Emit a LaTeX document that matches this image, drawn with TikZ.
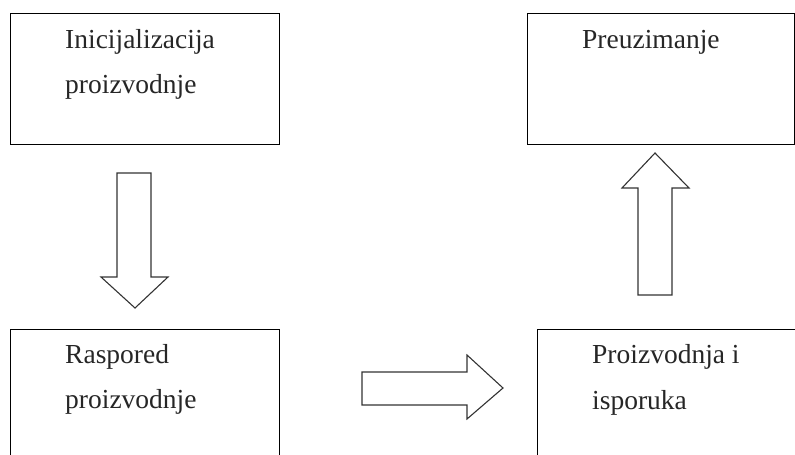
\documentclass[tikz,border=0pt]{standalone}
\usepackage{fontspec}
\setmainfont{Liberation Serif}
\begin{document}
\begin{tikzpicture}[x=1pt,y=-1pt,
  box/.style={draw=black,line width=1.4pt,rectangle,inner sep=0pt,anchor=north west},
  lbl/.style={anchor=base west,inner sep=0pt,font=\fontsize{27.5}{45}\selectfont,text=black!85},
  blockarrow/.style={draw=black!80,line width=1.1pt,fill=white,line join=miter}]
\useasboundingbox (0,0) rectangle (795,455);
\clip (0,0) rectangle (795,455);
% boxes
\node[box,minimum width=269pt,minimum height=131pt] (b1) at (10,13) {};
\node[box,minimum width=267pt,minimum height=131pt] (b2) at (527,13) {};
\node[box,minimum width=269pt,minimum height=140pt] (b3) at (10,329) {};
\node[box,minimum width=270pt,minimum height=140pt] (b4) at (537,329) {};
% labels
\node[lbl] (t1a) at (65,48) {Inicijalizacija};
\node[lbl] (t1b) at (65,93) {proizvodnje};
\node[lbl] (t2) at (582,48) {Preuzimanje};
\node[lbl] (t3a) at (65,363) {Raspored};
\node[lbl] (t3b) at (65,408) {proizvodnje};
\node[lbl] (t4a) at (592,363) {Proizvodnja i};
\node[lbl] (t4b) at (592,409) {isporuka};
% block arrows
\draw[blockarrow] (117,173) -- (151,173) -- (151,277) -- (168,277) -- (135,308) -- (101,277) -- (117,277) -- cycle;
\draw[blockarrow] (362,372) -- (467,372) -- (467,355) -- (503,388) -- (467,419) -- (467,405) -- (362,405) -- cycle;
\draw[blockarrow] (638,295) -- (638,188) -- (622,188) -- (655,153) -- (689,188) -- (672,188) -- (672,295) -- cycle;
\end{tikzpicture}
\end{document}
